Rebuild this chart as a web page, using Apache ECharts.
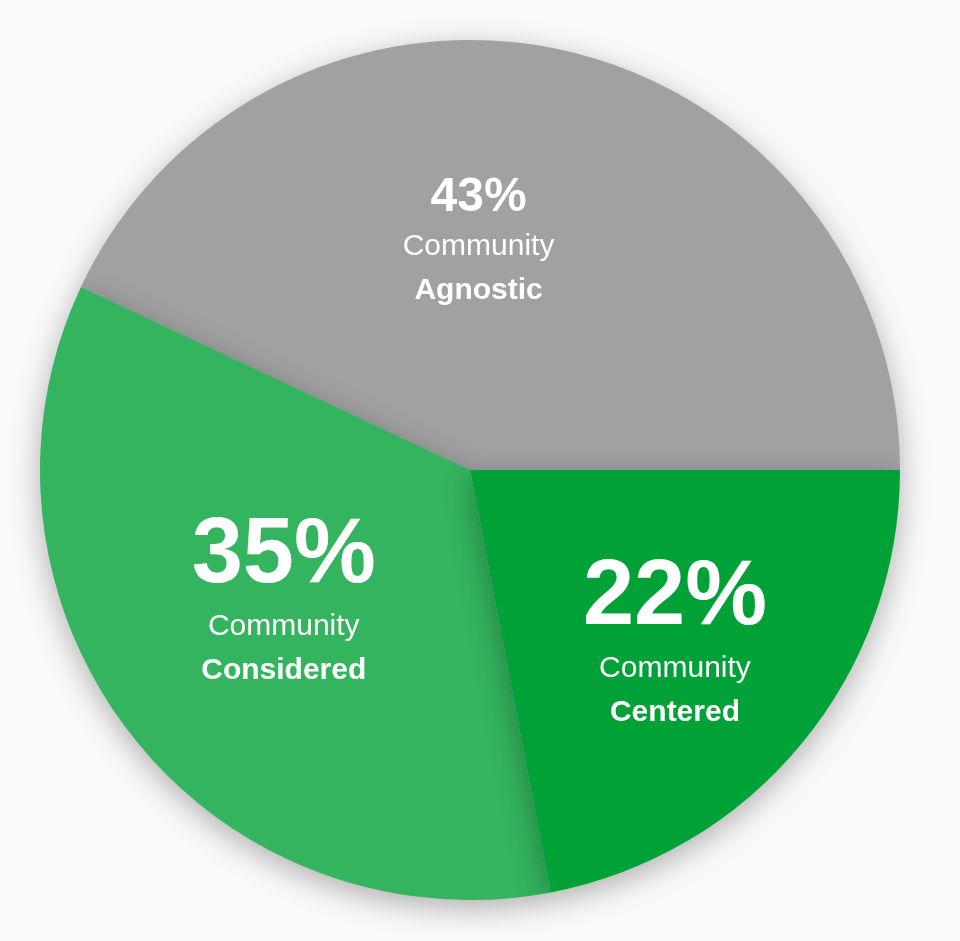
<!DOCTYPE html>
<html lang="en">
<head>
    <meta charset="UTF-8">
    <title>Community pie</title>
    <script src="https://cdn.jsdelivr.net/npm/echarts@6/dist/echarts.min.js"></script>
    <style>
        html, body { margin: 0; padding: 0; background: #f9f9f9; }
    </style>
</head>
<body>
    <div id="chart" style="width: 960px; height: 941px;"></div>

    <script>
        // dados
        var names = ['Agnostic', 'Considered', 'Centered'];
        var values = [43, 35, 22];
        var colors = ['#a1a1a1', '#34b45e', '#00a137'];
        var offsets = [[-39, -15], [-14, -3], [37, 34]];

        var chart = echarts.init(document.getElementById('chart'));

        var data = values.map(function (v, i) {
            return {
                name: names[i],
                value: v,
                itemStyle: { color: colors[i] },
                label: {
                    offset: offsets[i],
                    formatter: '{' + (i === 0 ? 'mid' : 'big') + '|{c}%}\n{sub|Community}\n{bold|{b}}'
                }
            };
        });

        chart.setOption({
            backgroundColor: '#f9f9f9',
            series: [{
                type: 'pie',
                center: [470, 470],
                radius: [0, 430],
                startAngle: 0,
                clockwise: false,
                silent: true,
                itemStyle: {
                    shadowBlur: 30,
                    shadowOffsetY: 8,
                    shadowColor: 'rgba(0,0,0,0.3)'
                },
                label: {
                    position: 'inside',
                    color: '#fff',
                    fontFamily: 'Liberation Sans',
                    align: 'center',
                    rich: {
                        big: { fontSize: 92, fontWeight: 'bold', color: '#fff', lineHeight: 96, fontFamily: 'Liberation Sans' },
                        mid: { fontSize: 48, fontWeight: 'bold', color: '#fff', lineHeight: 52, fontFamily: 'Liberation Sans' },
                        sub: { fontSize: 30, color: '#fff', lineHeight: 44, fontFamily: 'Liberation Sans' },
                        bold: { fontSize: 30, fontWeight: 'bold', color: '#fff', lineHeight: 44, fontFamily: 'Liberation Sans' }
                    }
                },
                labelLine: { show: false },
                data: data
            }]
        });
    </script>
</body>
</html>
